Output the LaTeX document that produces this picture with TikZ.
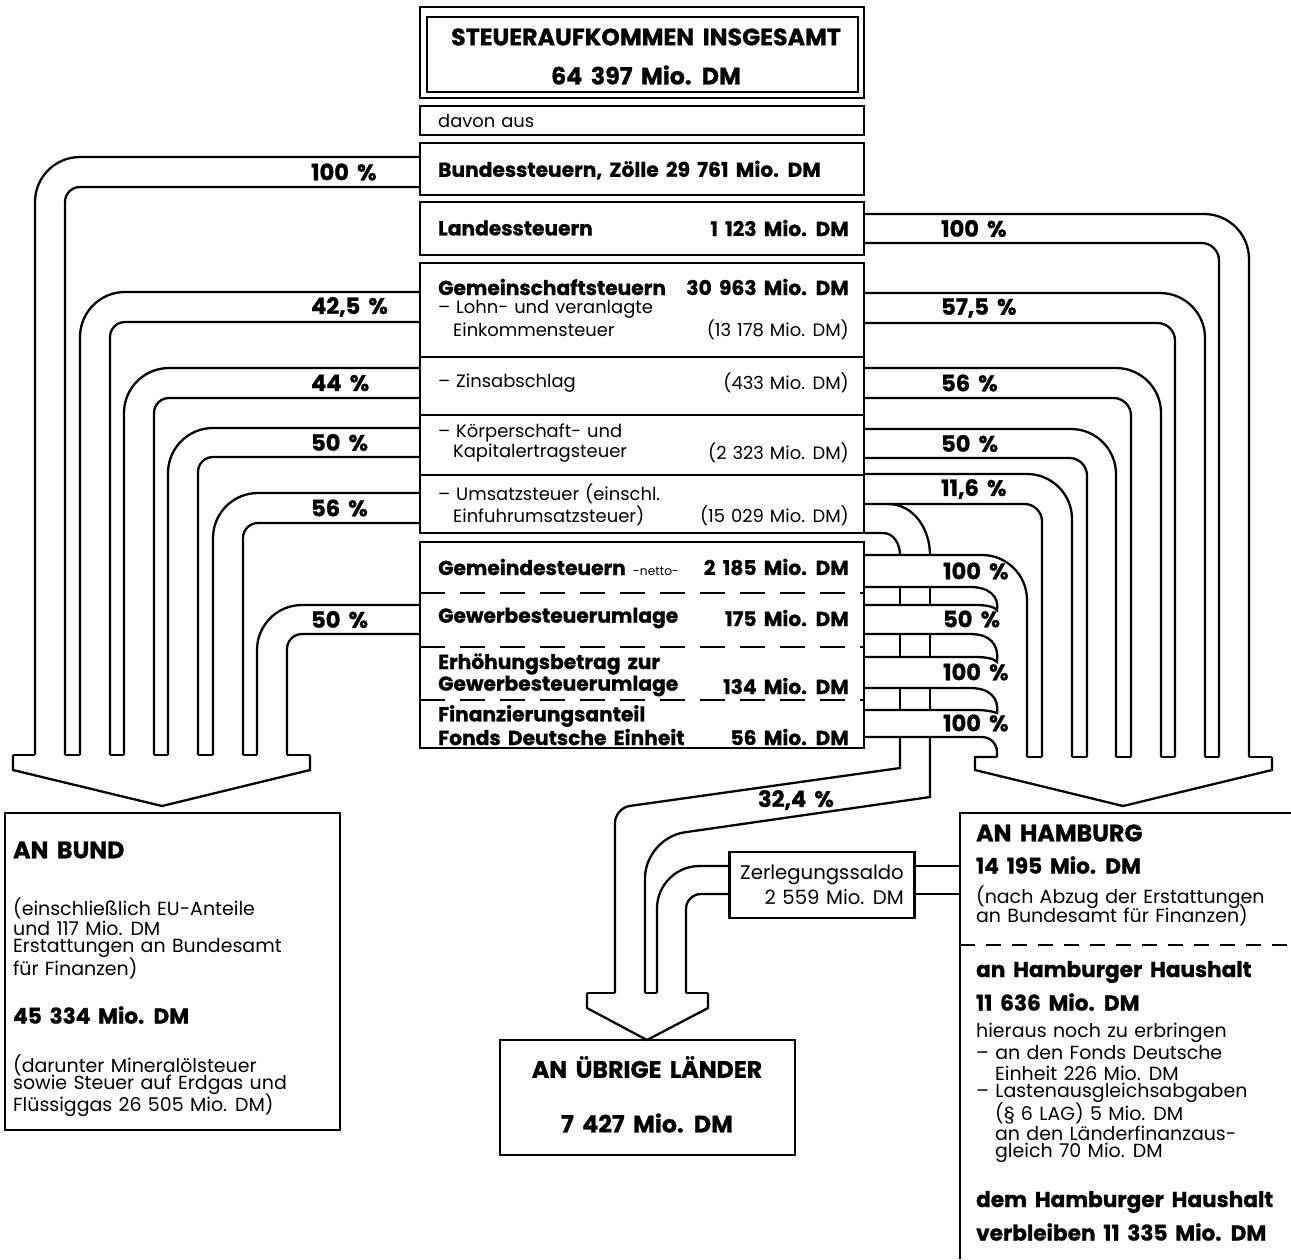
\documentclass[tikz,border=0pt]{standalone}
\usepackage{fontspec}
\setmainfont{Poppins}[Numbers=Monospaced, UprightFeatures={WordSpace=1.25}, BoldFeatures={FakeBold=1, WordSpace=1.7}]
\tikzset{
	title/.style={font=\fontsize{13.5}{15}\selectfont\bfseries, inner sep=0pt},
	big/.style={font=\fontsize{11.5}{13}\selectfont\bfseries, inner sep=0pt},
	bigb/.style={font=\fontsize{12.3}{14}\selectfont\bfseries, inner sep=0pt},
	reg/.style={font=\fontsize{10.2}{12}\selectfont, inner sep=0pt},
	txt/.style={font=\fontsize{10.8}{12}\selectfont, inner sep=0pt},
	pct/.style={font=\fontsize{12.8}{14}\selectfont\bfseries, inner sep=0pt, anchor=west},
	lft/.style={anchor=west},
	rgt/.style={anchor=east},
	dashrow/.style={dash pattern=on 0.5cm off 0.3cm},
}
\begin{document}
\begin{tikzpicture}[x=0.02cm,y=-0.02cm,line width=1.3pt]
			\useasboundingbox (0,0) rectangle (1291,1259);
			
			% Kopf
			\draw[line width=1.6pt] (420,7) rectangle (864,98);
			\draw (427,17) rectangle (858,92);
			\node[title] (sum) at (646,37) {STEUERAUFKOMMEN INSGESAMT};
			\node[title] (sumv) at (646,75) {64 397 Mio. DM};
			
			% mittlere Spalte
			\draw (420,106) rectangle (864,135);
			\draw (420,143) rectangle (864,195);
			\draw (420,202) rectangle (864,255);
			\draw (420,263) rectangle (864,533);
			\foreach \y in {357,415,475} \draw (420,\y) -- (864,\y);
			\draw (420,542) rectangle (864,748);
			\foreach \y in {593,647,700} \draw[dashrow] (420,\y) -- (864,\y);
			
			\node[reg,lft] (davon) at (437,121) {davon aus};
			\node[big,lft] (bs) at (437,170) {Bundessteuern, Zölle 29 761 Mio. DM};
			\node[big,lft] (ls) at (437,228) {Landessteuern};
			\node[big,rgt] (lsv) at (850,228) {1 123 Mio. DM};
			\node[big,lft] (gs) at (437,287) {Gemeinschaftsteuern};
			\node[big,rgt] (gsv) at (850,287) {30 963 Mio. DM};
			\node[reg,lft] (lohn) at (437,309) {– Lohn- und veranlagte};
			\node[reg,lft] (lohnb) at (452,330) {Einkommensteuer};
			\node[reg,rgt] (lohnv) at (850,330) {(13 178 Mio. DM)};
			\node[reg,lft] (zins) at (437,383) {– Zinsabschlag};
			\node[reg,rgt] (zinsv) at (850,383) {(433 Mio. DM)};
			\node[reg,lft] (koerp) at (437,433) {– Körperschaft- und};
			\node[reg,lft] (koerpb) at (452,453) {Kapitalertragsteuer};
			\node[reg,rgt] (koerpv) at (850,453) {(2 323 Mio. DM)};
			\node[reg,lft] (ums) at (437,494) {– Umsatzsteuer (einschl.};
			\node[reg,lft] (umsb) at (452,516) {Einfuhrumsatzsteuer)};
			\node[reg,rgt] (umsv) at (850,516) {(15 029 Mio. DM)};
			\node[big,lft] (gem) at (437,567) {Gemeindesteuern {\fontsize{7}{8}\selectfont\mdseries -netto-}};
			\node[big,rgt] (gemv) at (850,567) {2 185 Mio. DM};
			\node[big,lft] (gew) at (437,618) {Gewerbesteuerumlage};
			\node[big,rgt] (gewv) at (850,618) {175 Mio. DM};
			\node[big,lft] (erh) at (437,664) {Erhöhungsbetrag zur};
			\node[big,lft] (erhb) at (437,686) {Gewerbesteuerumlage};
			\node[big,rgt] (erhv) at (850,686) {134 Mio. DM};
			\node[big,lft] (fin) at (437,716) {Finanzierungsanteil};
			\node[big,lft] (finb) at (437,737) {Fonds Deutsche Einheit};
			\node[big,rgt] (finv) at (850,737) {56 Mio. DM};
			
			% Stroeme zum Bund
			\foreach \yt/\yb/\xo/\xi/\p [count=\i] in {157/187/35/65/{100 \%},292/322/80/110/{42,5 \%},368/398/124/154/{44 \%},428/457/168/198/{50 \%},493/523/213/243/{56 \%},605/634/257/287/{50 \%}}
			{
				\draw[rounded corners=0.9cm] (420,\yt) -| (\xo,755);
				\draw[rounded corners=0.3cm] (420,\yb) -| (\xi,755);
				\node[pct] (lp\i) at (310,{(\yt+\yb)/2}) {\p};
			}
			\foreach \a/\b in {13/35,65/80,110/124,154/168,198/213,243/257,287/310}
				\draw (\a,755) -- (\b,755);
			\draw (13,755) -- (13,770) -- (162,806) -- (310,770) -- (310,755);
			
			% Stroeme nach Hamburg
			\foreach \yt/\yb/\xo/\xi/\p [count=\i] in {214/243/1249/1219/{100 \%},293/323/1205/1175/{57,5 \%},368/398/1161/1131/{56 \%},429/458/1116/1087/{50 \%},474/504/1072/1042/{11,6 \%}}
			{
				\draw[rounded corners=0.9cm] (864,\yt) -| (\xo,757);
				\draw[rounded corners=0.35cm] (864,\yb) -| (\xi,757);
				\node[pct] (rp\i) at (940,{(\yt+\yb)/2}) {\p};
			}
			\draw[rounded corners=0.9cm] (864,555) -| (1027,757);
			\foreach \ya/\yb/\yc in {587/605/610,634/657/662,688/710/713}
			{
				\draw (864,\ya) -- (970,\ya) .. controls (990,\ya) and (999,{\ya+10}) .. (997,\yc) .. controls (994,{\yb+2}) and (988,\yb) .. (975,\yb) -- (864,\yb);
				\draw (900,\ya) -- (900,\yb);
				\draw (930,\ya) -- (930,\yb);
			}
			\draw[rounded corners=0.3cm] (864,737) -| (997,757);
			\foreach \y/\p [count=\i] in {571/{100 \%},619/{50 \%},672/{100 \%},723/{100 \%}}
				\node[pct] (gp\i) at (942,\y) {\p};
			\foreach \a/\b in {1027/1042,1072/1087,1116/1131,1161/1175,1205/1219,1249/1272}
				\draw (\a,757) -- (\b,757);
			\draw (997,757) -- (975,757) -- (975,770) -- (1123,806) -- (1272,770) -- (1272,757);
			
			% Strom an uebrige Laender
			\draw (864,533) -- (883,533) to[out=0,in=90] (900,555);
			\draw (888,504) to[out=0,in=90] (930,555);
			\draw (900,737) -- (900,768) [rounded corners=0.3cm] -- (615,808) [rounded corners=0.8cm] -- (615,993);
			\draw (930,737) -- (930,797) [rounded corners=0.8cm] -- (645,838) [rounded corners=0.3cm] -- (645,993);
			\node[pct,anchor=center] (lp) at (796,800) {32,4 \%};
			
			\node[draw, font=\fontsize{11.2}{14}\selectfont, minimum width=3.7cm, minimum height=1.32cm, align=right] (zerl) at (822,885) {Zerlegungssaldo\\2 559 Mio. DM};
			\draw[rounded corners=0.85cm] (730,866) -| (657,993);
			\draw[rounded corners=0.3cm] (730,894) -| (686,993);
			\draw (915,866) -- (960,866);
			\draw (915,894) -- (960,894);
			
			\foreach \a/\b in {587/615,645/657,686/708}
				\draw (\a,993) -- (\b,993);
			\draw (587,993) -- (587,1008) -- (647,1040) -- (708,1008) -- (708,993);
			\draw (500,1040) rectangle (795,1155);
			\node[title] (ul) at (647,1067) {AN ÜBRIGE LÄNDER};
			\node[title] (ulv) at (647,1123) {7 427 Mio. DM};
			
			% Bund
			\draw (5,813) rectangle (340,1130);
			\node[title,lft] (bund) at (12,850) {AN BUND};
			\node[txt,lft] (bund1) at (12,908) {(einschließlich EU-Anteile};
			\node[txt,lft] (bund2) at (12,928) {und 117 Mio. DM};
			\node[txt,lft] (bund3) at (12,948) {Erstattungen an Bundesamt};
			\node[txt,lft] (bund4) at (12,968) {für Finanzen)};
			\node[bigb,lft] (bundv) at (12,1015) {45 334 Mio. DM};
			\node[txt,lft] (bund5) at (12,1065) {(darunter Mineralölsteuer};
			\node[txt,lft] (bund6) at (12,1085) {sowie Steuer auf Erdgas und};
			\node[txt,lft] (bund7) at (12,1105) {Flüssiggas 26 505 Mio. DM)};
			
			% Hamburg
			\draw (960,1259) -- (960,813) -- (1291,813);
			\draw[dash pattern=on 0.3cm off 0.22cm] (960,945) -- (1291,945);
			\node[title,lft] (hh) at (975,833) {AN HAMBURG};
			\node[bigb,lft] (hhv) at (975,865) {14 195 Mio. DM};
			\node[txt,lft] (hh1) at (975,897) {(nach Abzug der Erstattungen};
			\node[txt,lft] (hh2) at (975,915) {an Bundesamt für Finanzen)};
			\node[bigb,lft] (hh3) at (975,972) {an Hamburger Haushalt};
			\node[bigb,lft] (hh4) at (975,1002) {11 636 Mio. DM};
			\node[txt,lft] (hh5) at (975,1033) {hieraus noch zu erbringen};
			\node[txt,lft] (hh6) at (975,1053) {– an den Fonds Deutsche};
			\node[txt,lft] (hh7) at (994,1073) {Einheit 226 Mio. DM};
			\node[txt,lft] (hh8) at (975,1093) {– Lastenausgleichsabgaben};
			\node[txt,lft] (hh9) at (994,1113) {(§ 6 LAG) 5 Mio. DM};
			\node[txt,lft] (hh10) at (994,1133) {an den Länderfinanzaus-};
			\node[txt,lft] (hh11) at (994,1153) {gleich 70 Mio. DM};
			\node[bigb,lft] (hh12) at (975,1202) {dem Hamburger Haushalt};
			\node[bigb,lft] (hh13) at (975,1232) {verbleiben 11 335 Mio. DM};
\end{tikzpicture}
\end{document}
